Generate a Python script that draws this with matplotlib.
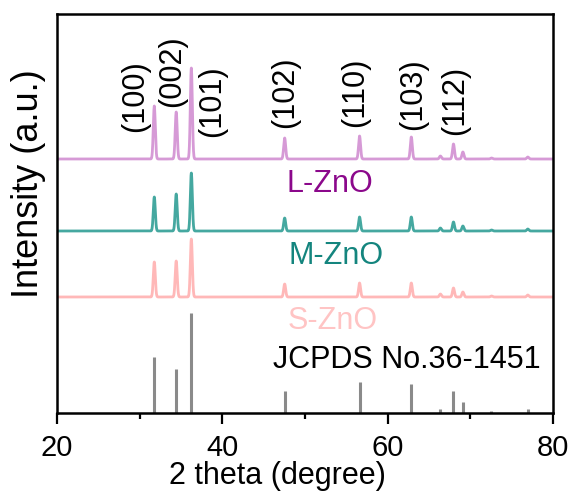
import numpy as np
import matplotlib.pyplot as plt

plt.rcParams['font.family'] = ['Liberation Sans', 'DejaVu Sans']

# ZnO reflections (2 theta, degree)
peaks = [31.77, 34.42, 36.25, 47.54, 56.60, 62.86, 66.38, 67.96, 69.10, 72.56, 76.95]

# reference card intensities
jcpds = [56, 44, 100, 22, 31, 29, 4, 22, 11, 2, 4]

# measured patterns: baseline and peak heights
s_base = 116
s_peaks = [35, 36, 58, 13, 14, 14, 3, 9, 5, 1, 2]
m_base = 182
m_peaks = [34, 37, 58, 13, 14, 14, 3, 9, 5, 1, 2]
l_base = 254
l_peaks = [53, 47, 91, 21, 23, 22, 3, 15, 7, 1, 2]

hkl = ['(100)', '(002)', '(101)', '(102)', '(110)', '(103)', '(112)']
hkl_x = [29.4, 33.9, 38.75, 47.6, 56.05, 63.1, 68.1]
hkl_y = [317, 342, 312, 321, 321, 319, 313]

samples = ['L-ZnO', 'M-ZnO', 'S-ZnO']


def pattern(x, base, heights, width=0.12):
    y = np.full_like(x, float(base))
    for p, h in zip(peaks, heights):
        y += h * np.exp(-0.5 * ((x - p) / width) ** 2)
    return y


x = np.linspace(20, 80, 6000)

fig = plt.figure(figsize=(5.77, 4.95), dpi=100)
ax = fig.add_axes([57 / 577, 82 / 495, 496 / 577, 399 / 495])

ax.plot(x, pattern(x, l_base, l_peaks), color='#d69ad6', lw=2)
ax.plot(x, pattern(x, m_base, m_peaks), color='#45a8a0', lw=2)
ax.plot(x, pattern(x, s_base, s_peaks), color='#ffb8b8', lw=2)
ax.vlines(peaks, 0, jcpds, color='#8a8a8a', lw=2.2)

# sample labels
ax.text(53.0, 229, samples[0], color='#8b088b', fontsize=22, ha='center', va='center')
ax.text(53.75, 157, samples[1], color='#14857e', fontsize=22, ha='center', va='center')
ax.text(53.4, 92, samples[2], color='#ffc4c4', fontsize=22, ha='center', va='center')
ax.text(62.3, 53, 'JCPDS No.36-1451', color='black', fontsize=22, ha='center', va='center')

for t, tx, ty in zip(hkl, hkl_x, hkl_y):
    ax.text(tx, ty, t, rotation=90, fontsize=22, ha='center', va='center')

ax.set_xlim(20, 80)
ax.set_ylim(0, 399)
ax.set_xticks([20, 40, 60, 80])
ax.set_xticks([30, 50, 70], minor=True)
ax.set_yticks([])
ax.tick_params(axis='x', which='major', length=8, width=1.6, labelsize=21, pad=7)
ax.tick_params(axis='x', which='minor', length=4, width=1.6)
for s in ax.spines.values():
    s.set_linewidth(1.8)

ax.set_xlabel('2 theta (degree)', fontsize=22)
ax.xaxis.set_label_coords(0.444, -0.1203)
ax.set_ylabel('Intensity (a.u.)', fontsize=26)
ax.yaxis.set_label_coords(-0.022, 0.574)

fig.savefig('out.png', dpi=100)
